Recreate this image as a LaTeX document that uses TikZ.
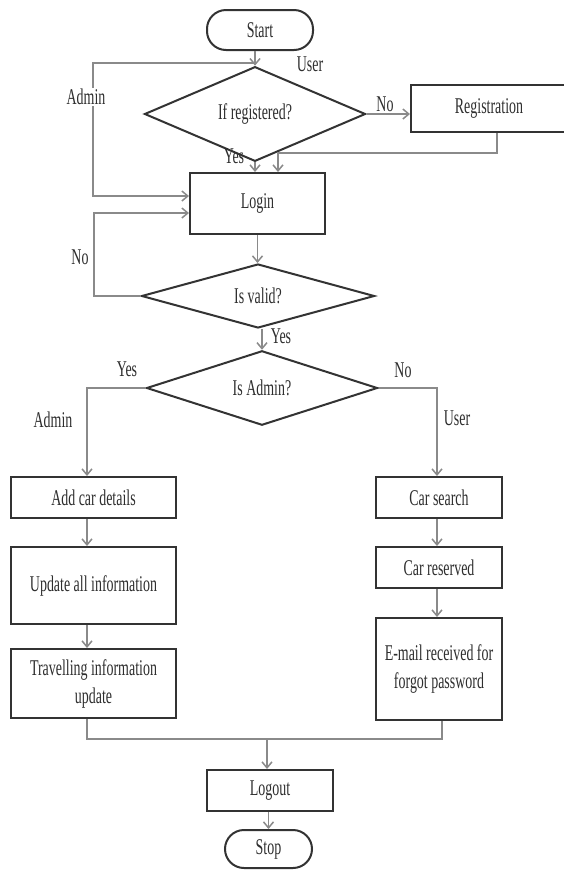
\documentclass[tikz,border=0pt]{standalone}
\usepackage{fontspec}
\setmainfont{Liberation Serif}[FakeStretch=0.62]
\usetikzlibrary{shapes.geometric, arrows.meta}

\definecolor{boxline}{HTML}{333333}
\definecolor{flowline}{HTML}{8A8A8A}
\definecolor{inkgray}{HTML}{2E2E2E}

\begin{document}
\begin{tikzpicture}[x = 1pt, y = -1pt, > = {Straight Barb[length = 6pt, width = 10pt]},
	every node/.style = {font = \fontsize{22.5}{28}\selectfont, text = inkgray},
	process/.style = {rectangle, draw = boxline, line width = 2pt, inner sep = 0pt, align = center},
	terminal/.style = {process, rounded corners = 19pt},
	decision/.style = {diamond, draw = boxline, line width = 2pt, inner sep = 0pt},
	flow/.style = {draw = flowline, line width = 1.5pt},
	tag/.style = {inner sep = 1pt}]
	
	% Page
	
	\fill [white] (0, 0) rectangle (564, 871);
	\useasboundingbox (0, 0) rectangle (564, 871);
	
	% Start, registration and login
	
	\node [terminal, minimum width = 106pt, minimum height = 40pt] (start) at (260, 30) {Start};
	\node [decision, minimum width = 221pt, minimum height = 64pt] (ifreg) at (255, 114) {If registered?};
	\node [process, minimum width = 156pt, minimum height = 47pt] (registration) at (489, 108.5) {Registration};
	\node [process, minimum width = 135pt, minimum height = 61pt] (login) at (257.5, 203.5) {Login};
	
	% Checks
	
	\node [decision, minimum width = 233pt, minimum height = 64pt] (valid) at (258, 296) {Is valid?};
	\node [decision, minimum width = 231pt, minimum height = 65pt] (isadmin) at (262, 388) {Is Admin?};
	
	% Admin side
	
	\node [process, minimum width = 165pt, minimum height = 41pt] (addcar) at (93.5, 497.5) {Add car details};
	\node [process, minimum width = 165pt, minimum height = 77pt] (update) at (93.5, 585.5) {Update all information};
	\node [process, minimum width = 165pt, minimum height = 69pt] (travel) at (93.5, 683.5) {Travelling information\\update};
	
	% User side
	
	\node [process, minimum width = 126pt, minimum height = 41pt] (carsearch) at (439, 497.5) {Car search};
	\node [process, minimum width = 126pt, minimum height = 41pt] (carres) at (439, 567.5) {Car reserved};
	\node [process, minimum width = 126pt, minimum height = 102pt] (email) at (439, 669) {E-mail received for\\forgot password};
	
	% End
	
	\node [process, minimum width = 126pt, minimum height = 41pt] (logout) at (270, 790.5) {Logout};
	\node [terminal, minimum width = 87pt, minimum height = 38pt] (stop) at (268.5, 849) {Stop};
	
	% Connectors
	
	\coordinate (split) at (256, 63);
	\coordinate (adminturn) at (93, 63);
	\coordinate (retry) at (94, 296);
	\coordinate (join) at (267, 739);
	
	\begin{scope}[flow, ->]
	
		\draw (ifreg.north |- start.south) -- (ifreg.north);
		\draw (split) -- (adminturn) |- ([yshift = 7.5pt]login.west);
		\draw (ifreg.east) -- (ifreg.east -| registration.west);
		\draw (ifreg.south) -- (ifreg.south |- login.north);
		\draw ([xshift = 8pt]registration.south) -- ++(0, 20) -| ([xshift = 20.5pt]login.north);
		\draw (login.south) -- (login.south |- valid.north);
		\draw (valid.west) -- (retry) |- ([yshift = -9.5pt]login.west);
		\draw (isadmin.north |- valid.south) -- (isadmin.north);
		\draw (isadmin.west) -| ([xshift = -6.5pt]addcar.north);
		\draw (isadmin.east) -| ([xshift = -2pt]carsearch.north);
		\draw ([xshift = -6.5pt]addcar.south) -- ([xshift = -6.5pt]update.north);
		\draw ([xshift = -6.5pt]update.south) -- ([xshift = -6.5pt]travel.north);
		\draw ([xshift = -2pt]carsearch.south) -- ([xshift = -2pt]carres.north);
		\draw ([xshift = -2pt]carres.south) -- ([xshift = -2pt]email.north);
		\draw (join) -- (join |- logout.north);
		\draw (stop.north |- logout.south) -- (stop.north);
		
	\end{scope}
	
	\draw [flow] ([xshift = -6.5pt]travel.south) |- (join) -| ([xshift = 3pt]email.south);
	
	% Branch labels
	
	\node [tag] (user1) at (310, 64) {User};
	\node [tag, fill = white] (admin1) at (86, 97) {Admin};
	\node [tag] (regno) at (385, 104) {No};
	\node [tag] (regyes) at (234, 156) {Yes};
	\node [tag] (validno) at (80, 257) {No};
	\node [tag] (validyes) at (281, 336) {Yes};
	\node [tag] (adminyes) at (127, 369) {Yes};
	\node [tag] (adminno) at (403, 370) {No};
	\node [tag] (admin2) at (53, 420) {Admin};
	\node [tag] (user2) at (457, 418) {User};

\end{tikzpicture}
\end{document}
